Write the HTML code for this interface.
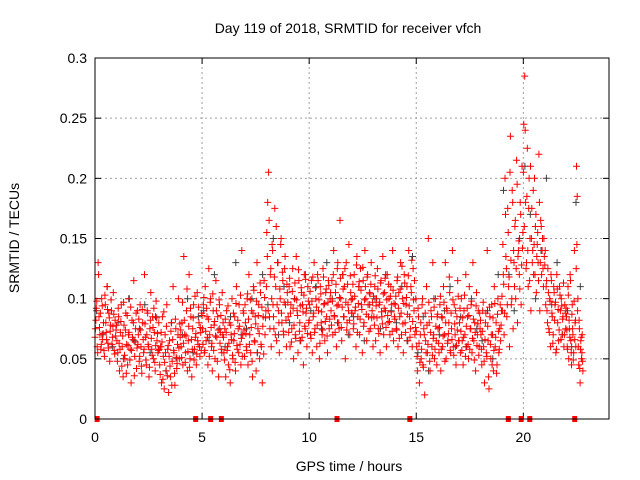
<!DOCTYPE html>
<html><head><meta charset="utf-8"><style>
html,body{margin:0;padding:0;background:#fff}
svg{display:block;font-family:"Liberation Sans",sans-serif}
</style></head><body>
<svg id="chart" width="640" height="480" viewBox="0 0 640 480" xmlns="http://www.w3.org/2000/svg">
<rect x="0" y="0" width="640" height="480" fill="#fff"/>
<text x="348" y="33" text-anchor="middle" font-size="14">Day 119 of 2018, SRMTID for receiver vfch</text>
<text x="349" y="471" text-anchor="middle" font-size="14">GPS time / hours</text>
<text x="19" y="238" text-anchor="middle" font-size="14" transform="rotate(-90 19 238)">SRMTID / TECUs</text>
<g id="grid"></g>
<g id="axes"></g>
<g id="gray"></g>
<g id="red"></g>
<g id="outages"></g>
<rect x="95" y="58" width="514" height="361" fill="none" stroke="#000" stroke-width="1"/>
</svg>
<script>
const xTicks=[0,5,10,15,20];
const yTicks=[0,0.05,0.1,0.15,0.2,0.25,0.3];
const yTickLabels=["0","0.05","0.1","0.15","0.2","0.25","0.3"];
const hourSpans=[1,1,1,1,1,1,1,1,1,1,1,1,1,1,1,1,1,1,1,1,1,1,0.8];
const redValues=[
[75,92,60,130,85,70,58,100,66,80,52,95,72,110,63,88,48,78,90,68,105,57,82,74],
[65,55,85,40,72,95,60,35,78,50,88,62,45,70,100,58,30,82,66,115,52,75,42,90],
[70,48,95,60,38,80,55,120,68,45,90,62,35,75,105,58,85,50,72,40,98,65,55,80],
[45,60,30,85,52,25,70,40,95,58,22,65,35,80,48,110,55,28,75,42,62,100,50,68],
[60,80,45,135,70,55,90,40,65,120,50,85,35,75,95,58,68,45,105,62,80,52,72,88],
[75,95,55,110,65,85,45,125,70,100,60,40,90,78,50,115,68,85,35,95,72,58,105,80],
[55,75,35,90,60,45,80,30,70,100,50,65,85,40,110,58,75,95,62,45,140,70,88,52],
[80,60,100,45,120,70,55,90,35,110,65,85,40,130,75,95,50,105,60,30,85,115,70,90],
[155,180,205,85,120,60,145,95,75,175,110,65,130,90,55,100,150,80,115,70,125,95,60,105],
[85,110,60,95,75,125,50,100,70,135,90,55,115,80,65,105,95,45,120,75,88,60,110,80],
[95,70,115,55,85,130,75,100,60,120,90,50,110,80,70,125,95,65,105,85,55,115,75,100],
[90,115,70,140,85,105,60,125,95,75,165,100,65,120,85,110,50,130,80,95,145,70,105,88],
[100,75,120,90,60,135,85,110,70,125,95,55,115,80,140,100,65,120,85,105,75,130,90,60],
[85,110,65,100,125,75,95,55,115,85,135,70,105,90,60,120,80,100,70,110,95,140,65,85],
[95,75,115,60,105,85,130,70,100,55,120,80,95,110,65,140,85,75,105,60,125,90,70,100],
[60,40,85,30,70,50,95,45,75,20,65,110,55,150,80,40,90,60,130,70,50,100,65,85],
[75,55,95,40,85,60,110,70,130,50,90,65,80,105,55,75,140,60,95,70,45,85,115,65],
[80,55,100,65,45,90,70,120,60,85,50,110,75,95,55,130,65,80,40,105,70,90,60,75],
[70,45,90,60,30,80,55,140,65,25,85,50,95,70,40,110,60,80,45,100,55,75,65,90],
[90,120,70,200,135,85,175,110,60,235,95,190,75,130,160,100,215,80,140,120,180,95,210,155],
[245,285,180,130,225,110,200,150,90,175,140,120,200,160,105,145,130,220,90,165,120,150,110,135],
[140,110,90,125,75,100,60,115,85,70,105,95,55,120,80,65,110,90,100,70,85,60,95,75],
[85,60,110,50,75,120,65,45,95,70,55,140,80,60,210,185,100,45,75,30,65,50,70,40]
];
const redValuesB=[
[68,82,98,55,120,76,88,62,94,71,57,103,80,66,91,59,84,73,99,62,77,87,54,69],
[78,48,92,63,58,81,44,69,97,53,74,38,86,61,72,49,93,57,68,80,36,64,88,59],
[62,83,52,74,44,91,66,58,79,49,70,88,60,43,82,67,53,76,92,47,61,84,71,57],
[58,37,72,64,33,89,47,55,77,36,61,52,44,73,28,66,57,38,83,51,46,70,59,79],
[74,51,97,63,82,47,69,108,56,77,43,92,66,58,84,49,102,71,54,65,93,60,76,57],
[86,62,101,57,73,92,68,83,52,97,76,63,104,57,81,69,90,48,74,99,63,86,55,70],
[68,49,83,72,57,94,63,41,78,66,53,88,71,47,96,61,82,55,77,103,67,52,90,74],
[95,71,57,104,83,62,99,76,48,88,107,64,79,98,55,86,71,113,62,93,77,54,101,84],
[110,135,90,165,75,125,100,140,85,118,70,160,95,130,80,108,145,88,122,73,97,135,82,112],
[97,72,117,88,64,106,92,78,113,67,99,86,124,73,94,109,68,89,103,77,116,92,71,98],
[82,106,67,98,118,88,72,109,93,78,115,99,63,104,89,74,118,96,81,108,69,97,111,83],
[105,78,98,120,86,72,112,94,130,80,101,117,76,93,108,85,125,97,74,112,90,82,119,99],
[88,112,79,102,93,128,72,96,114,83,107,91,126,77,99,110,87,118,95,73,104,112,84,97],
[102,78,119,94,84,108,71,97,113,89,79,104,92,117,76,99,86,112,81,102,89,73,107,96],
[83,102,74,118,92,67,108,88,127,79,96,113,72,101,87,119,94,68,110,132,81,99,115,76],
[73,52,92,63,47,80,58,100,43,70,88,55,78,62,97,48,72,85,53,67,93,58,77,45],
[87,63,76,102,58,84,69,97,48,80,92,63,71,118,57,88,66,99,53,79,90,61,74,102],
[65,92,73,57,84,68,103,52,77,92,62,86,58,75,98,67,83,49,72,94,61,79,53,88],
[82,58,73,97,48,66,88,52,77,35,93,62,70,45,84,57,96,68,38,87,73,58,95,78],
[102,145,112,88,170,125,95,155,118,205,132,100,180,140,110,165,125,195,135,148,108,170,128,142],
[205,160,240,125,185,140,175,115,210,150,130,190,145,120,170,135,155,115,180,130,160,140,125,150],
[128,95,115,80,105,72,98,120,88,63,110,82,97,58,108,91,74,103,66,94,83,113,70,88],
[92,74,58,103,82,68,115,55,87,75,49,98,66,82,125,145,90,60,82,42,58,68,55,48]
];
const grayValues=[[90,70,110,60],[80,50,100,65],[75,95,55,85],[60,40,80,50],[70,100,55,85],[90,65,120,75],[60,85,130,70],[75,100,55,120],[95,150,70,110],[80,100,65,120],[90,110,75,130],[100,80,120,70],[85,110,65,95],[100,75,120,90],[80,110,65,135],[55,85,40,100],[70,90,110,60],[85,60,100,75],[65,90,50,120],[190,120,90,150],[210,170,100,140],[200,95,130,70],[90,60,180,110]];
const outageTimes=[0.1,4.7,5.4,5.9,11.3,14.7,19.3,19.9,20.3,22.4];

const NS="http://www.w3.org/2000/svg";
const X0=95,X1=609,Y0=419,Y1=58,XMAX=24,YMAX=0.3;
function xs(t){return X0+(X1-X0)*t/XMAX;}
function ys(v){return Y0-(Y0-Y1)*v/YMAX;}
function mk(tag,attrs,parent){const e=document.createElementNS(NS,tag);for(const k in attrs)e.setAttribute(k,attrs[k]);parent.appendChild(e);return e;}
const grid=document.getElementById('grid'),axes=document.getElementById('axes');
yTicks.forEach((v,i)=>{
  const y=ys(v);
  if(i>0&&i<yTicks.length-1){const g=mk('line',{x1:X0,x2:X1,y1:y,y2:y,stroke:'#a0a0a0','stroke-dasharray':'2,3'},grid);
  
  }
  mk('line',{x1:X0,x2:X0+6,y1:y,y2:y,stroke:'#000'},axes);
  mk('line',{x1:X1-6,x2:X1,y1:y,y2:y,stroke:'#000'},axes);
  const t=mk('text',{x:X0-8,y:y+5,'text-anchor':'end','font-size':14},axes);
  t.textContent=yTickLabels[i];
  
  
});
xTicks.forEach(v=>{
  const x=xs(v);
  if(v>0){const g=mk('line',{x1:x,x2:x,y1:Y0,y2:Y1,stroke:'#a0a0a0','stroke-dasharray':'2,3'},grid);
  
  }
  mk('line',{x1:x,x2:x,y1:Y0,y2:Y0-6,stroke:'#000'},axes);
  mk('line',{x1:x,x2:x,y1:Y1,y2:Y1+6,stroke:'#000'},axes);
  const t=mk('text',{x:x,y:Y0+23,'text-anchor':'middle','font-size':14},axes);
  t.textContent=String(v);
  
  
});
function plotSeries(vals,gid,color,name,offset){
  const g=document.getElementById(gid);let d='';
  vals.forEach((arr,h)=>{arr.forEach((v,i)=>{
    const t=h+(i+offset)/arr.length*hourSpans[h];
    const x=xs(t),y=ys(v/1000);
    d+='M'+(x-3.5).toFixed(1)+' '+y.toFixed(1)+'h7M'+x.toFixed(1)+' '+(y-3.5).toFixed(1)+'v7';
  });});
  const p=mk('path',{d:d,stroke:color,'stroke-width':1,fill:'none'},g);
  
  
}
plotSeries(grayValues,'gray','#404040','gray-points',0.3);
plotSeries(redValues,'red','#ff0000','red-points',0.5);
plotSeries(redValuesB,'red','#ff0000','red-points-b',0.05);
const og=document.getElementById('outages');
outageTimes.forEach(t=>{
  const r=mk('rect',{x:xs(t)-2.5,y:Y0-3,width:5,height:6,fill:'#ff0000'},og);
  
  
});
</script>
</body></html>
